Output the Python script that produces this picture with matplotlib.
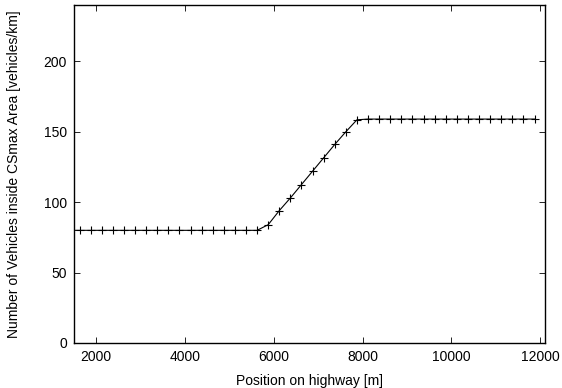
import matplotlib
matplotlib.use('Agg')
import numpy as np
from matplotlib import pyplot as plt

# positions along the highway [m], one sample every 250 m
position = [1375, 1625, 1875, 2125, 2375, 2625, 2875, 3125, 3375, 3625, 3875,
            4125, 4375, 4625, 4875, 5125, 5375, 5625, 5875, 6125, 6375, 6625,
            6875, 7125, 7375, 7625, 7875, 8125, 8375, 8625, 8875, 9125, 9375,
            9625, 9875, 10125, 10375, 10625, 10875, 11125, 11375, 11625, 11875]
# vehicles inside CSmax area [vehicles/km]
density = [80] * 18 + [84, 94, 103, 112.5, 122, 131.5, 141, 150, 158.5] + [159] * 16

x_ticks = [2000, 4000, 6000, 8000, 10000, 12000]
y_ticks = [0, 50, 100, 150, 200]

plt.rcParams['font.family'] = ['Liberation Sans', 'DejaVu Sans']
plt.rcParams['font.size'] = 10

fig = plt.figure(figsize=(5.62, 3.88), dpi=100)
ax = fig.add_axes([74 / 562, 1 - 343 / 388, (544.5 - 74) / 562, (343 - 5) / 388])

ax.plot(position, density, color='black', lw=0.8, marker='+', ms=6, mew=0.8)

ax.set_xlim(1500, 12100)
ax.set_ylim(0, 240)
ax.set_xticks(x_ticks)
ax.set_yticks(y_ticks)
ax.tick_params(direction='in', top=True, right=True, length=4, width=0.6, pad=5)
for spine in ax.spines.values():
    spine.set_linewidth(1.0)

ax.set_xlabel('Position on highway [m]', labelpad=7)
ax.set_ylabel('Number of Vehicles inside CSmax Area [vehicles/km]', labelpad=16)

fig.savefig('out.png', dpi=100)
